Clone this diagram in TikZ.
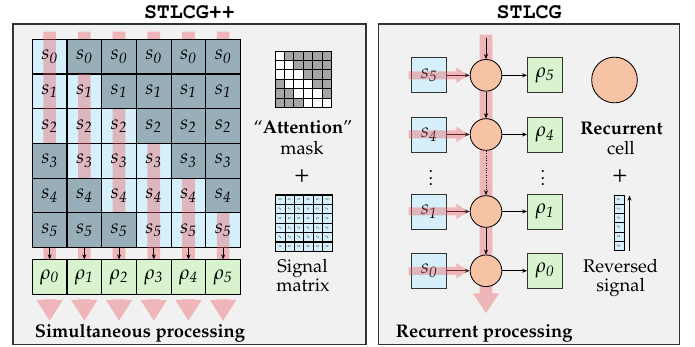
\documentclass[tikz,border=0pt]{standalone}
\usepackage[T1]{fontenc}
\usepackage{mathpazo}
\usepackage{amsmath}
\usetikzlibrary{arrows.meta}

\definecolor{panelgray}{HTML}{F1F1F1}
\definecolor{sigblue}{HTML}{D6F0FB}
\definecolor{maskedblue}{HTML}{98AEB9}
\definecolor{rhogreen}{HTML}{D8F3CE}
\definecolor{cellpeach}{HTML}{F6C3A4}
\definecolor{flowred}{HTML}{EB5F64}
\definecolor{maskgray}{HTML}{A5A5A5}

\tikzset{
	panel/.style={draw=black!80,line width=0.9pt,fill=panelgray},
	sigcell/.style={draw,line width=0.6pt,fill=sigblue,minimum size=20.8pt,inner sep=0pt,font=\fontsize{12}{14}\selectfont},
	rhocell/.style={sigcell,fill=rhogreen},
	sigbox/.style={draw=black!80,line width=0.5pt,fill=sigblue,minimum size=21pt,inner sep=0pt,font=\fontsize{12}{14}\selectfont},
	rhobox/.style={sigbox,fill=rhogreen},
	reccell/.style={circle,draw,line width=0.5pt,fill=cellpeach,minimum size=19pt,inner sep=0pt},
	flowgroup/.style={transparency group,opacity=0.4},
	flow/.style={draw=flowred,fill=flowred,line width=7.6pt},
	thinarrow/.style={-{Stealth[length=3pt,width=2.4pt]},line width=0.45pt},
	minicell/.style={draw,line width=0.5pt,minimum size=5.64pt,inner sep=0pt,font=\fontsize{2.2}{2.5}\selectfont},
	legendtext/.style={font=\fontsize{11}{13}\selectfont,anchor=base},
	plussign/.style={font=\fontsize{15}{17}\selectfont},
	paneltitle/.style={font=\fontfamily{pcr}\fontseries{b}\fontsize{13}{15}\selectfont,anchor=base}
}

\begin{document}
\begin{tikzpicture}[x=0.6pt,y=-0.6pt]
	\useasboundingbox (0,0) rectangle (695,347);
	\draw[panel] (13,24) rectangle (366,344.3);
	\draw[panel] (378.3,24) rectangle (679.3,344.3);
	\node[paneltitle] (tleft) at (189.5,18.3) {STLCG++};
	\node[paneltitle] (tright) at (529,18.3) {STLCG};

	% left: signal matrix under the window
	\foreach \i in {0,...,5}
		\foreach \j in {0,...,5}
			\node[sigcell] (c\i\j) at ({49.65+34.7*\j},{56.65+34.7*\i}) {};
	\begin{scope}[flowgroup]
	\foreach \j in {0,...,5}{
		\draw[flow] ({49.65+34.7*\j},31.7) -- ({49.65+34.7*\j},294);
		\draw[flow,-{Triangle[width=14.8pt,length=12.6pt]}] ({49.65+34.7*\j},299.5) -- ({49.65+34.7*\j},321);
	}
	\end{scope}
	\foreach \i in {0,...,5}
		\foreach \j in {0,...,5}{
			\pgfmathtruncatemacro\keep{and(\j<=\i,\i-\j<=2)}
			\ifnum\keep=0 \node[sigcell,fill=maskedblue] at (c\i\j) {};\fi
			\node[font=\fontsize{12}{14}\selectfont] at (c\i\j) {$s_{\mathit{\i}}$};
		}
	\foreach \j in {0,...,5}{
		\node[rhocell] (r\j) at ({49.65+34.7*\j},277.2) {$\rho_{\mathit{\j}}$};
		\draw[thinarrow] (c5\j) -- (r\j);
	}

	% legend: mask + signal matrix
	\foreach \i in {0,...,5}
		\foreach \j in {0,...,5}{
			\pgfmathtruncatemacro\keep{and(\j<=\i,\i-\j<=2)}
			\ifnum\keep=1 \def\maskfill{white}\else\def\maskfill{maskgray}\fi
			\node[minicell,fill=\maskfill] (m\i\j) at ({279.7+9.4*\j},{55.7+9.4*\i}) {};
		}
	\foreach \i in {0,...,5}
		\foreach \j in {0,...,5}
			\node[minicell,fill=sigblue,line width=0.7pt] (g\i\j) at ({280.4+9.4*\j},{199.7+9.4*\i}) {$s_{\i}$};
	\node[legendtext] (attn) at (303,134) {``\textbf{Attention}''};
	\node[legendtext] (mask) at (302,155) {mask};
	\node[plussign] (plusl) at (302,175.7) {+};
	\node[legendtext] (sigl) at (302.5,272.5) {Signal};
	\node[legendtext] (matl) at (303,292) {matrix};
	\node[legendtext,font=\fontsize{11}{13}\selectfont\bfseries] (simul) at (140,337.3) {Simultaneous processing};

	% right: recurrent cells
	\begin{scope}[flowgroup]
		\draw[flow,-{Triangle[width=14.8pt,length=12pt]}] (486,34.7) -- (486,313.3);
	\end{scope}
	\coordinate (feed) at (486,38);
	\foreach \k/\y in {5/75.3,4/134.5,1/211.5,0/270.8}{
		\node[sigbox] (s\k) at (429.2,\y) {$s_{\mathit{\k}}$};
		\node[reccell] (h\k) at (486,\y) {};
		\node[rhobox] (p\k) at (545,\y) {$\rho_{\mathit{\k}}$};
		\draw[thinarrow] (s\k) -- (h\k);
		\draw[thinarrow] (h\k) -- (p\k);
		\begin{scope}[flowgroup]
			\draw[flow,line width=4.8pt,-{Triangle[width=8.6pt,length=7.2pt]}] ([xshift=-1.6pt]s\k.west) -- ([xshift=12.8pt]s\k.east);
		\end{scope}
	}
	\draw[thinarrow] (feed) -- (h5);
	\draw[thinarrow] (h5) -- (h4);
	\draw[thinarrow,densely dotted] (h4) -- (h1);
	\draw[thinarrow] (h1) -- (h0);
	\node[font=\fontsize{11}{13}\selectfont] (sdots) at (431,173) {$\vdots$};
	\node[font=\fontsize{11}{13}\selectfont] (pdots) at (543,173) {$\vdots$};

	% legend: cell + reversed signal
	\node[reccell,minimum size=27.4pt] (legcell) at (614.5,80) {};
	\foreach \k in {0,...,5}
		\node[minicell,minimum width=6pt,minimum height=5.57pt,fill=sigblue] (v\k) at (619,{199.6+9.28*\k}) {$s_{\k}$};
	\coordinate (rbot) at (629.5,251);
	\coordinate (rtop) at (629.5,195.5);
	\draw[thinarrow] (rbot) -- (rtop);
	\node[legendtext] (recl) at (621.5,134.5) {\textbf{Recurrent}};
	\node[legendtext] (celll) at (621,155) {cell};
	\node[plussign] (plusr) at (620,175.7) {+};
	\node[legendtext] (revl) at (620.6,272.5) {Reversed};
	\node[legendtext] (sigr) at (620.6,292) {signal};
	\node[legendtext,font=\fontsize{11}{13}\selectfont\bfseries] (recur) at (484.2,337.3) {Recurrent processing};
\end{tikzpicture}
\end{document}
